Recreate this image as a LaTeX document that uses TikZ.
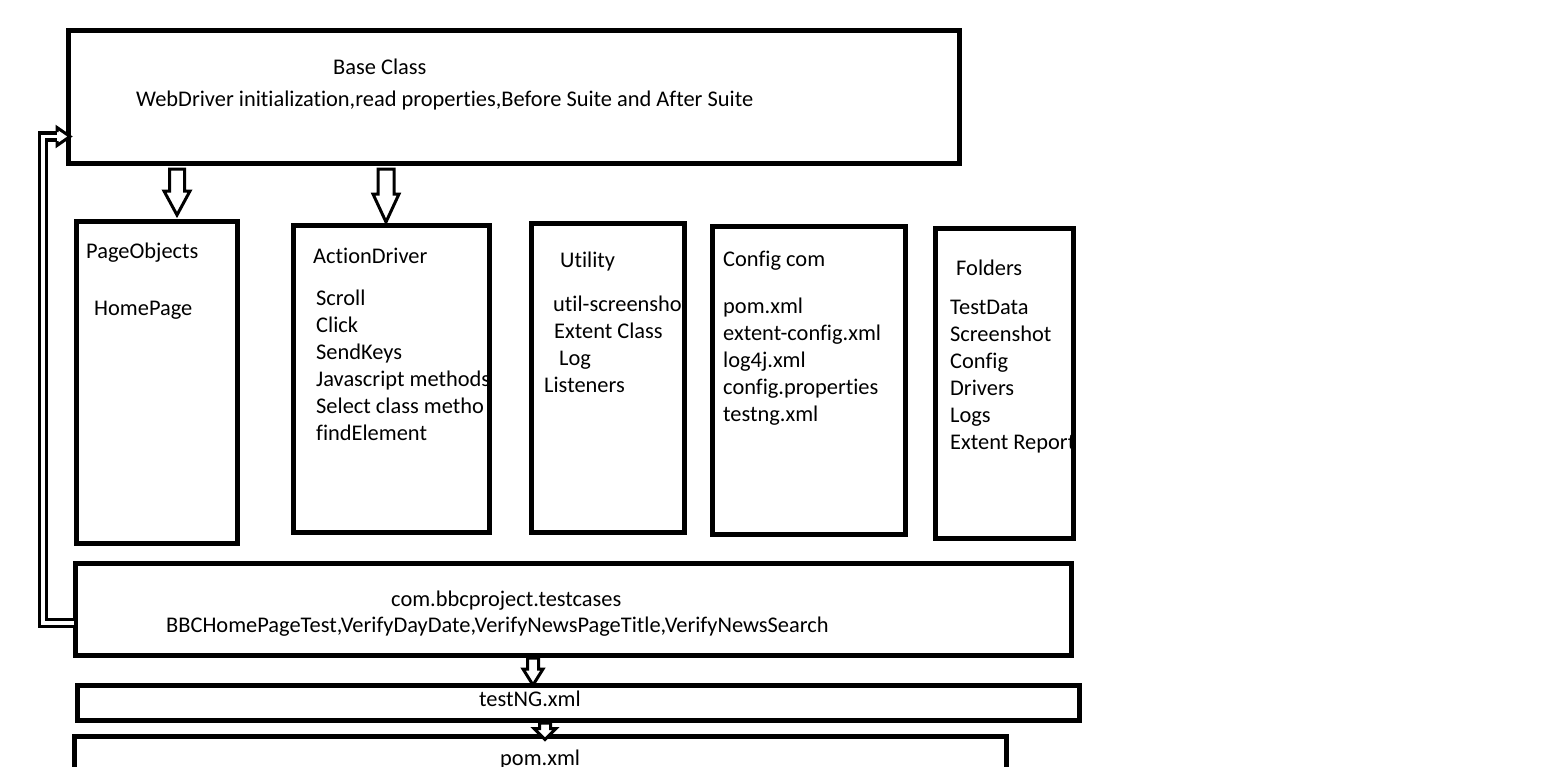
\documentclass[tikz,border=0pt]{standalone}
\usepackage{fontspec}
\setmainfont{Carlito}[Ligatures={NoCommon}]
\usetikzlibrary{calc}
\tikzset{
  box/.style={draw=black, line width=5pt, rectangle, inner sep=0pt, outer sep=0pt, anchor=north west},
  txt/.style={anchor=base west, inner sep=0pt, text=black},
  arrowline/.style={draw=black, line width=3pt, fill=white, line join=miter},
}
\newcommand\blockdown[5]{% start, end, shaft half width, head half width, head length
  \draw[arrowline] let \p1=(#1), \p2=(#2) in
    (\x1-#3pt,\y1) -- (\x1-#3pt,\y2+#5pt) -- (\x1-#4pt,\y2+#5pt) -- (\x2,\y2)
    -- (\x1+#4pt,\y2+#5pt) -- (\x1+#3pt,\y2+#5pt) -- (\x1+#3pt,\y1) -- cycle;}
\begin{document}
\begin{tikzpicture}[x=1pt,y=-1pt,font=\fontsize{22.4}{27}\selectfont]
\useasboundingbox (0,0) rectangle (1565,766);
\clip (0,0) rectangle (1565,766);
% boxes
\node[box, minimum width=891pt, minimum height=133pt] (base) at (68,30) {};
\node[box, minimum width=161pt, minimum height=322pt] (po) at (76,221) {};
\node[box, minimum width=196pt, minimum height=307pt] (ad) at (293,225) {};
\node[box, minimum width=153pt, minimum height=309pt] (ut) at (531,223) {};
\node[box, minimum width=193pt, minimum height=308pt] (cc) at (712,226) {};
\node[box, minimum width=138pt, minimum height=310pt] (fo) at (935,228) {};
\node[box, minimum width=996pt, minimum height=92pt] (tc) at (75,563) {};
\node[box, minimum width=1002pt, minimum height=35pt] (tng) at (77,685) {};
\node[box, minimum width=932pt, minimum height=80pt] (pom) at (74,736.5) {};
% texts
\node[txt] (t-base) at (333,74) {Base Class};
\node[txt] (t-base2) at (136,106) {WebDriver initialization,read properties,Before Suite and After Suite};
\begin{scope}
\clip (po.north west) rectangle (po.south east);
\node[txt] (t-po) at (86,258) {PageObjects};
\node[txt] (t-po1) at (94,315) {HomePage};
\end{scope}
\begin{scope}
\clip (ad.north west) rectangle (ad.south east);
\node[txt] (t-ad) at (313,263) {ActionDriver};
\node[txt] (t-ad1) at (316,305) {Scroll};
\node[txt] (t-ad2) at (316,332) {Click};
\node[txt] (t-ad3) at (316,359) {SendKeys};
\node[txt] (t-ad4) at (316,386) {Javascript methods};
\node[txt] (t-ad5) at (316,413) {Select class metho};
\node[txt] (t-ad6) at (316,440) {findElement};
\end{scope}
\begin{scope}
\clip (ut.north west) rectangle (ut.south east);
\node[txt] (t-ut) at (560,267) {Utility};
\node[txt] (t-ut1) at (553,311) {util-screenshot};
\node[txt] (t-ut2) at (554,338) {Extent Class};
\node[txt] (t-ut3) at (559,365) {Log};
\node[txt] (t-ut4) at (544,392) {Listeners};
\end{scope}
\begin{scope}
\clip (cc.north west) rectangle (cc.south east);
\node[txt] (t-cc) at (723,266) {Config com};
\node[txt] (t-cc1) at (723,313) {pom.xml};
\node[txt] (t-cc2) at (723,340) {extent-config.xml};
\node[txt] (t-cc3) at (723,367) {log4j.xml};
\node[txt] (t-cc4) at (723,394) {config.properties};
\node[txt] (t-cc5) at (723,421) {testng.xml};
\end{scope}
\begin{scope}
\clip (fo.north west) rectangle (fo.south east);
\node[txt] (t-fo) at (956,275) {Folders};
\node[txt] (t-fo1) at (950,314) {TestData};
\node[txt] (t-fo2) at (950,341) {Screenshot};
\node[txt] (t-fo3) at (950,368) {Config};
\node[txt] (t-fo4) at (950,395) {Drivers};
\node[txt] (t-fo5) at (950,422) {Logs};
\node[txt] (t-fo6) at (950,449) {Extent Report};
\end{scope}
\node[txt] (t-tc) at (391,606) {com.bbcproject.testcases};
\node[txt] (t-tc2) at (166,632) {BBCHomePageTest,VerifyDayDate,VerifyNewsPageTitle,VerifyNewsSearch};
\node[txt] (t-tng) at (479,706) {testNG.xml};
\node[txt] (t-pom) at (500,765) {pom.xml};
% block arrows
\coordinate (x1) at (177,0);
\coordinate (x2) at (386,0);
\coordinate (x3) at (533,0);
\coordinate (x4) at (545,0);
\coordinate (a1s) at (x1 |- base.south);
\coordinate (a1e) at ($(x1 |- po.north)+(0,-6)$);
\coordinate (a2s) at (x2 |- base.south);
\coordinate (a2e) at ($(x2 |- ad.north)+(0,-3)$);
\coordinate (a3s) at (x3 |- tc.south);
\coordinate (a3e) at (x3 |- tng.north);
\coordinate (a4s) at (x4 |- tng.south);
\coordinate (a4e) at ($(x4 |- pom.north)+(0,3)$);
\blockdown{$(a1s)+(0,6)$}{a1e}{7.5}{13}{24}
\blockdown{$(a2s)+(0,6)$}{a2e}{8}{13}{28}
\blockdown{$(a3s)+(0,3)$}{a3e}{5.5}{10}{16}
\blockdown{$(a4s)+(0,3)$}{a4e}{5.5}{11}{11}
% loop connector from testcases back to base class
\coordinate (lp1) at ($(tc.west |- 0,623)+(-1,0)$);
\coordinate (lp2) at (43,623);
\coordinate (lp3) at (43,136.5);
\coordinate (lp4) at (57,136.5);
\draw[line width=3.5pt, double=white, double distance=3.5pt, line join=miter] (lp1) -- (lp2) -- (lp3) -- (lp4);
\coordinate (lhead) at (base.west |- lp4);
\draw[black, line width=3pt, fill=white, line join=miter]
  ($(lp4)+(0,-4.5)$) -- ($(lp4)+(0,-9)$) -- ($(lhead)+(2,0)$) -- ($(lp4)+(0,9)$) -- ($(lp4)+(0,4.5)$);
\end{tikzpicture}
\end{document}
